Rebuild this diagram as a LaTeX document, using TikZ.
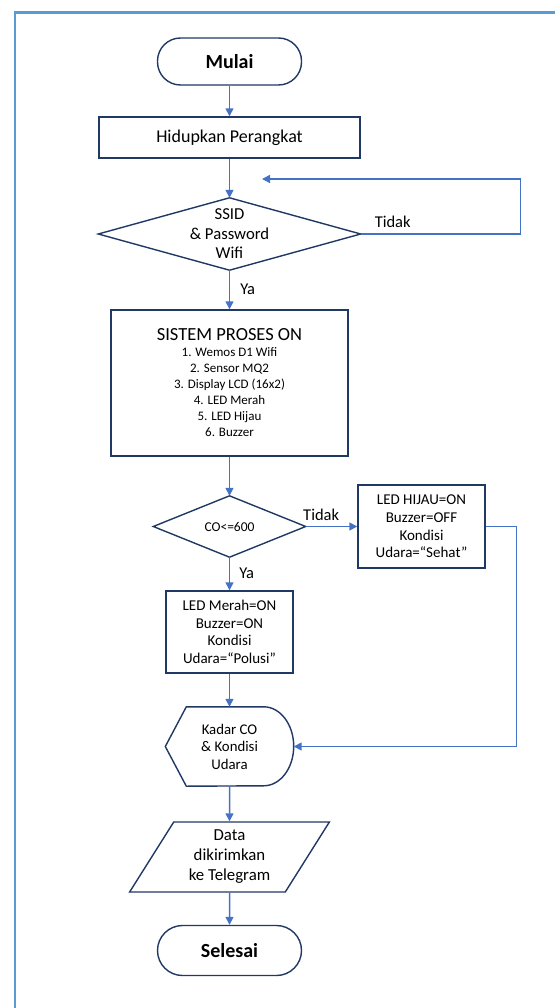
\documentclass[tikz,border=0pt]{standalone}
\usepackage{fontspec}
\setmainfont{Carlito}
\usetikzlibrary{arrows.meta,shapes.geometric}
\definecolor{nodeline}{HTML}{203864}
\definecolor{arrowblue}{HTML}{4472C4}
\definecolor{framecol}{HTML}{5B9BD5}

\begin{document}
\begin{tikzpicture}[x=1pt,y=-1pt,align=center,
    font=\fontsize{15}{17.6}\selectfont,
    term/.style={draw=nodeline,line width=1.4pt,rounded corners=23pt,minimum width=144pt,minimum height=47pt,font=\fontsize{20}{24}\selectfont\bfseries},
    proc/.style={draw=nodeline,line width=1.4pt,rectangle},
    decide/.style={rectangle,inner sep=0pt},
    io/.style={draw=nodeline,line width=1.4pt,trapezium,trapezium left angle=60,trapezium right angle=120,trapezium stretches=true,minimum width=200pt,minimum height=70pt,font=\fontsize{16.8}{20}\selectfont},
    border/.style={draw=nodeline,line width=1.4pt},
    flow/.style={draw=arrowblue,line width=1.5pt,-{Triangle[length=8pt,width=8pt]}},
    lbl/.style={font=\fontsize{16.5}{19}\selectfont,inner sep=2pt}]
  \useasboundingbox (0,0) rectangle (555,1008);
  % frame
  \draw[framecol,line width=2.5pt] (15,1008) -- (15,12.5) -- (555,12.5);

  \node[term] (mulai) at (229.5,61.5) {Mulai};
  \node[proc,minimum width=261pt,minimum height=41pt,font=\fontsize{18}{21}\selectfont] (hidup) at (229.5,137.5) {Hidupkan Perangkat};
  \node[decide,minimum width=262pt,minimum height=72pt,font=\fontsize{16.7}{19.5}\selectfont] (ssid) at (229.5,234) {SSID\\ \& Password\\ Wifi};
  \draw[border] (ssid.north) -- (ssid.east) -- (ssid.south) -- (ssid.west) -- cycle;
  \coordinate (balik) at (262,179);
  \node[proc,minimum width=237pt,minimum height=146pt,font=\fontsize{13}{16}\selectfont] (sistem) at (229.5,383)
    {{\fontsize{18.5}{20}\selectfont SISTEM PROSES ON}\\ 1. Wemos D1 Wifi\\ 2. Sensor MQ2\\ 3. Display LCD (16x2)\\ 4. LED Merah\\ 5. LED Hijau\\ 6. Buzzer};
  \node[decide,minimum width=152pt,minimum height=61pt,font=\fontsize{13.5}{16}\selectfont] (co) at (229.5,526.5) {CO<=600};
  \draw[border] (co.north) -- (co.east) -- (co.south) -- (co.west) -- cycle;
  \node[proc,minimum width=127pt,minimum height=83pt] (hijau) at (421.5,526.5) {LED HIJAU=ON\\ Buzzer=OFF\\ Kondisi\\ Udara=“Sehat”};
  \node[proc,minimum width=127pt,minimum height=82pt] (merah) at (229.5,632) {LED Merah=ON\\ Buzzer=ON\\ Kondisi\\ Udara=“Polusi”};
  \node[decide,minimum width=128pt,minimum height=79pt,font=\fontsize{14.8}{17.5}\selectfont] (kadar) at (229.5,746.5) {Kadar CO\\ \& Kondisi\\ Udara};
  \draw[border] ([xshift=21pt]kadar.north west) -- ([xshift=-30pt]kadar.north east)
    arc[start angle=90,end angle=-90,x radius=30pt,y radius=39.5pt] -- ([xshift=21pt]kadar.south west) -- (kadar.west) -- cycle;
  \node[io] (data) at (229.5,857) {Data\\ dikirimkan\\ ke Telegram};
  \node[term,minimum height=50pt,rounded corners=25pt] (selesai) at (229.5,950.5) {Selesai};

  \draw[flow] (mulai.south) -- (hidup.north);
  \draw[flow] (hidup.south) -- (ssid.north);
  \draw[flow] (ssid.east) -- node[lbl,pos=.2,above=4pt] {Tidak} ++(160,0) |- (balik);
  \draw[flow] (ssid.south) -- node[lbl,anchor=west,xshift=8pt] {Ya} (sistem.north);
  \draw[flow] (sistem.south) -- (co.north);
  \draw[flow] (co.east) -- node[lbl,pos=.3,above=3pt] {Tidak} (hijau.west);
  \draw[flow] (co.south) -- node[lbl,anchor=west,xshift=7pt] {Ya} (merah.north);
  \draw[flow] (merah.south) -- (kadar.north);
  \draw[flow] (hijau.east) -- ++(31,0) |- (kadar.east);
  \draw[flow] (kadar.south) -- (data.north);
  \draw[flow] (data.south) -- (selesai.north);
\end{tikzpicture}
\end{document}
